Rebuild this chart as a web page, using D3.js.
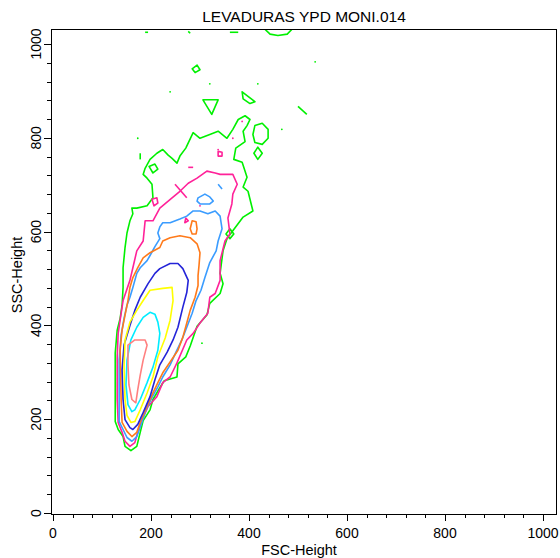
<!DOCTYPE html>
<html>
<head>
<meta charset="utf-8">
<script src="https://cdn.jsdelivr.net/npm/d3@7"></script>
<style>
  body { margin: 0; background: #fff; }
  text { font-family: "Liberation Sans", Arial, sans-serif; fill: #000; }
</style>
</head>
<body>
<div id="vis"></div>
<script>
const width = 560, height = 558;

const title = "LEVADURAS YPD MONI.014";
const xLabel = "FSC-Height", yLabel = "SSC-Height";
const majorTicks = [0, 200, 400, 600, 800, 1000];
const minorTicks = d3.range(0, 1001, 40);

// contour rings, [FSC, SSC] channel values, outermost level first
const level1 = [
  [[159,133],[147,142],[143,163],[133,178],[127,195],[127,242],[127,341],[131,390],[137,415],[141,443],
   [143,481],[143,523],[147,566],[151,597],[157,623],[163,638],[161,650],[171,650],[192,655],[204,672],
   [202,701],[192,714],[184,722],[188,735],[198,754],[212,767],[224,775],[235,763],[243,756],[253,746],
   [259,761],[271,778],[286,811],[300,799],[320,807],[337,814],[355,799],[367,818],[378,839],[392,847],
   [402,839],[396,826],[388,814],[392,792],[373,778],[369,754],[386,748],[396,716],[388,695],[398,686],
   [408,644],[388,631],[367,602],[355,585],[347,559],[341,511],[347,489],[341,468],[320,447],[314,422],
   [294,398],[280,356],[271,333],[255,318],[253,290],[227,282],[218,267],[204,242],[198,220],[184,197],
   [178,172],[171,142]],
  [[412,826],[427,831],[439,818],[439,799],[427,786],[412,790],[408,807]],
  [[418,780],[427,767],[418,754],[410,767]],
  [[306,881],[337,881],[324,850]],
  [[386,898],[412,877],[402,873],[388,883]],
  [[284,947],[294,955],[300,945],[290,939]],
  [[196,739],[208,744],[214,733],[204,725]],
  [[361,606],[369,595],[361,585],[353,595]]
];
const level1Open = [
  [[430,1034],[443,1021],[459,1018],[478,1021],[490,1034]],
  [[188,1025],[194,1025]],
  [[276,1027],[280,1023]],
  [[361,1025],[378,1025]],
  [[500,867],[518,850]],
  [[178,767],[178,754]]
];
const level1Dots = [[239,898],[320,915],[418,915],[535,962],[467,818],[173,799],[304,362]];

const level2 = [
  [[157,142],[147,153],[141,172],[133,193],[131,242],[131,333],[133,383],[137,411],[143,453],[157,496],
   [163,523],[171,559],[184,580],[188,623],[204,623],[218,650],[243,672],[259,686],[276,703],[294,714],
   [314,729],[331,725],[341,722],[367,722],[376,701],[367,680],[365,659],[357,629],[361,595],[351,580],
   [341,538],[341,496],[331,468],[320,460],[316,426],[300,405],[286,383],[273,369],[253,320],[239,290],
   [224,278],[212,248],[194,227],[182,199],[173,172],[167,150]],
  [[202,669],[212,672],[214,661],[206,655]],
  [[271,629],[276,623],[269,619]],
  [[337,771],[345,769],[345,761],[337,761]]
];
const level2Open = [
  [[276,737],[286,737]],
  [[249,701],[273,672]]
];
const level2Dots = [[386,835],[367,799],[337,775],[300,655]];

const level3 = [
  [[224,619],[239,619],[259,627],[273,633],[286,644],[300,644],[316,638],[331,644],[341,633],[345,606],
   [337,580],[333,559],[320,534],[310,502],[302,475],[292,453],[284,426],[273,396],[263,369],[251,343],
   [239,316],[224,290],[214,269],[202,246],[190,220],[180,189],[171,163],[161,153],[151,161],[143,178],
   [135,195],[135,242],[135,326],[139,379],[145,415],[151,443],[157,460],[163,481],[171,511],[178,523],
   [192,538],[198,549],[208,568],[218,585],[214,597],[218,610]],
  [[296,672],[310,680],[320,674],[327,665],[320,659],[300,659],[294,665]]
];
const level3Open = [[[337,701],[345,691]]];

const level4 = [
  [[239,587],[259,591],[280,587],[294,574],[300,555],[298,528],[296,506],[296,485],[290,460],[280,432],
   [273,405],[265,375],[255,347],[239,322],[224,299],[214,278],[204,256],[192,227],[178,193],[171,172],
   [161,163],[151,174],[141,193],[139,242],[137,347],[141,390],[147,422],[153,453],[157,481],[163,502],
   [173,523],[184,544],[198,555],[218,566],[224,580]],
  [[284,623],[292,621],[294,606],[292,595],[284,595],[280,606]]
];

const level5 = [
  [[218,521],[239,532],[255,532],[265,521],[276,496],[273,470],[265,439],[255,396],[245,369],[233,343],
   [218,316],[208,284],[198,248],[184,214],[173,189],[163,178],[157,182],[147,199],[143,242],[141,305],
   [145,358],[157,400],[167,432],[178,460],[194,489],[208,511]]
];

const level6 = [
  [[198,475],[224,479],[243,481],[245,453],[239,411],[229,373],[214,333],[204,290],[192,256],[178,220],
   [167,195],[159,193],[151,208],[147,242],[145,311],[147,369],[157,407],[171,432],[184,453]]
];

const level7 = [
  [[198,428],[208,424],[214,407],[218,383],[214,347],[204,311],[192,278],[178,242],[167,220],[161,216],
   [153,231],[149,273],[151,326],[159,369],[171,396],[184,417]]
];

const level8 = [
  [[153,358],[167,369],[188,369],[192,358],[184,326],[178,294],[173,263],[169,235],[161,242],[155,273],
   [153,316]]
];

const levelColors = ["#00f000", "#ff2299", "#3a9cff", "#ff7a1a", "#2424d8", "#ffff00", "#00ecff", "#ff8080"];

const levels = [
  { rings: level1, open: level1Open, dots: level1Dots },
  { rings: level2, open: level2Open, dots: level2Dots },
  { rings: level3, open: level3Open, dots: [] },
  { rings: level4, open: [], dots: [] },
  { rings: level5, open: [], dots: [] },
  { rings: level6, open: [], dots: [] },
  { rings: level7, open: [], dots: [] },
  { rings: level8, open: [], dots: [] }
];

const frame = { left: 51, right: 556, top: 29, bottom: 514 };

const x = d3.scaleLinear().domain([0, 1000]).range([53, 543]);
const y = d3.scaleLinear().domain([0, 1000]).range([513, 44]);

const svg = d3.select("#vis").append("svg")
    .attr("width", width)
    .attr("height", height)
    .attr("viewBox", `0 0 ${width} ${height}`);

svg.append("clipPath").attr("id", "plot-clip")
  .append("rect")
    .attr("x", frame.left).attr("y", frame.top)
    .attr("width", frame.right - frame.left).attr("height", frame.bottom - frame.top);

const closed = d3.line().x(d => x(d[0])).y(d => y(d[1])).curve(d3.curveLinearClosed);
const open = d3.line().x(d => x(d[0])).y(d => y(d[1]));

const plot = svg.append("g").attr("clip-path", "url(#plot-clip)");

levels.forEach((lv, i) => {
  const g = plot.append("g")
    .attr("fill", "none")
    .attr("stroke", levelColors[i])
    .attr("stroke-width", 1.6)
    .attr("stroke-linejoin", "round");
  g.selectAll("path.ring").data(lv.rings).enter().append("path")
    .attr("class", "ring").attr("d", closed);
  g.selectAll("path.seg").data(lv.open).enter().append("path")
    .attr("class", "seg").attr("d", open);
  g.selectAll("circle").data(lv.dots).enter().append("circle")
    .attr("cx", d => x(d[0])).attr("cy", d => y(d[1])).attr("r", 0.9)
    .attr("fill", levelColors[i]).attr("stroke", "none");
});

// frame
svg.append("rect")
  .attr("x", frame.left + 0.5).attr("y", frame.top + 0.5)
  .attr("width", frame.right - frame.left).attr("height", frame.bottom - frame.top)
  .attr("fill", "none").attr("stroke", "#000").attr("stroke-width", 1);

// x axis
const xAxis = svg.append("g");
xAxis.selectAll("line.minor").data(minorTicks).enter().append("line")
  .attr("x1", d => Math.round(x(d)) + 0.5).attr("x2", d => Math.round(x(d)) + 0.5)
  .attr("y1", frame.bottom).attr("y2", d => frame.bottom + (d % 200 === 0 ? 7 : 4))
  .attr("stroke", "#000");
xAxis.selectAll("text").data(majorTicks).enter().append("text")
  .attr("x", d => x(d)).attr("y", 538)
  .attr("text-anchor", "middle").attr("font-size", 14)
  .text(d => d);
xAxis.append("text")
  .attr("x", 299).attr("y", 555)
  .attr("text-anchor", "middle").attr("font-size", 14.5)
  .text(xLabel);

// y axis
const yAxis = svg.append("g");
yAxis.selectAll("line.minor").data(minorTicks).enter().append("line")
  .attr("y1", d => Math.round(y(d)) + 0.5).attr("y2", d => Math.round(y(d)) + 0.5)
  .attr("x1", frame.left).attr("x2", d => frame.left - (d % 200 === 0 ? 7 : 4))
  .attr("stroke", "#000");
yAxis.selectAll("text").data(majorTicks).enter().append("text")
  .attr("transform", d => `translate(41,${y(d)}) rotate(-90)`)
  .attr("text-anchor", "middle").attr("font-size", 14)
  .text(d => d);
yAxis.append("text")
  .attr("transform", "translate(22,275) rotate(-90)")
  .attr("text-anchor", "middle").attr("font-size", 14.5)
  .text(yLabel);

svg.append("text")
  .attr("x", 304).attr("y", 22)
  .attr("text-anchor", "middle").attr("font-size", 15.5)
  .text(title);
</script>
</body>
</html>
